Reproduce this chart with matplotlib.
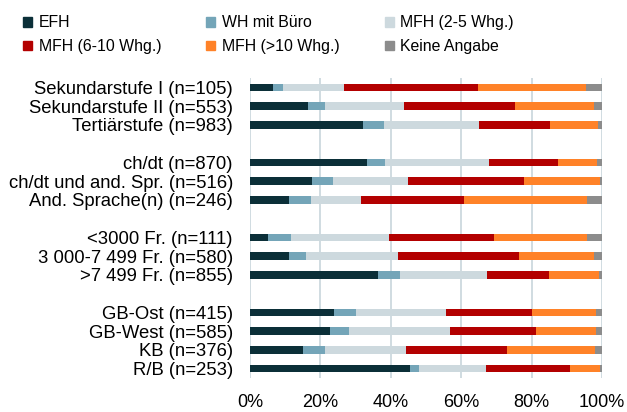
import matplotlib.pyplot as plt
from matplotlib.patches import Patch

plt.rcParams['font.family'] = ['Liberation Sans', 'DejaVu Sans']

# categories (top to bottom), None = gap between groups
labels = ["Sekundarstufe I (n=105)", "Sekundarstufe II (n=553)", "Tertiärstufe (n=983)", None,
          "ch/dt (n=870)", "ch/dt und and. Spr. (n=516)", "And. Sprache(n) (n=246)", None,
          "<3000 Fr. (n=111)", "3 000-7 499 Fr. (n=580)", ">7 499 Fr. (n=855)", None,
          "GB-Ost (n=415)", "GB-West (n=585)", "KB (n=376)", "R/B (n=253)"]

series = ["EFH", "WH mit Büro", "MFH (2-5 Whg.)", "MFH (6-10 Whg.)", "MFH (>10 Whg.)", "Keine Angabe"]
colors = ["#0b2f38", "#74a5b8", "#cdd9de", "#b30000", "#ff8228", "#8c8c8c"]

# shares in percent, one list per category
efh    = [6.5, 16.6, 32.2, 33.1, 17.5, 11.2, 5.2, 11.1, 36.4, 23.8, 22.7, 15.1, 45.5]
wh     = [2.9, 4.7, 5.9, 5.2, 6.1, 6.1, 6.4, 4.8, 6.2, 6.3, 5.4, 6.3, 2.6]
mfh25  = [17.2, 22.5, 27.0, 29.7, 21.3, 14.3, 28.0, 26.1, 24.7, 25.5, 28.8, 22.9, 19.0]
mfh610 = [38.3, 31.5, 20.2, 19.5, 32.9, 29.3, 29.7, 34.4, 17.6, 24.5, 24.4, 28.8, 23.8]
mfh10  = [30.5, 22.5, 13.5, 11.1, 21.5, 34.7, 26.3, 21.2, 14.3, 18.1, 17.0, 24.9, 8.4]
keine  = [4.6, 2.2, 1.2, 1.4, 0.7, 4.4, 4.4, 2.4, 0.8, 1.8, 1.7, 2.0, 0.7]

data = [efh, wh, mfh25, mfh610, mfh10, keine]
pos = [i for i, l in enumerate(labels) if l is not None]
names = [l for l in labels if l is not None]

fig = plt.figure(figsize=(6.27, 4.12), dpi=100)
ax = fig.add_axes([250 / 627, 1 - 378 / 412, 352 / 627, 300 / 412])

left = [0.0] * len(pos)
for vals, col, name in zip(data, colors, series):
    ax.barh(pos, vals, left=left, height=0.40, color=col, label=name, zorder=3)
    left = [a + b for a, b in zip(left, vals)]

ax.set_ylim(len(labels) - 0.5, -0.5)
ax.set_xlim(0, 100)
ax.set_yticks(pos)
ax.set_yticklabels(names, fontsize=13.3)
ax.set_xticks(range(0, 101, 20))
ax.set_xticklabels([f"{v}%" for v in range(0, 101, 20)], fontsize=13)
ax.tick_params(axis='y', length=0, pad=12.3)
ax.tick_params(axis='x', length=0, pad=11.5)
ax.grid(axis='x', color="#c8d6dc", linewidth=1.2, zorder=0)
for s in ax.spines.values():
    s.set_visible(False)

order = [0, 3, 1, 4, 2, 5]
handles = [Patch(color=colors[i]) for i in order]
fig.legend(handles, [series[i] for i in order], ncol=3, loc='upper left',
           bbox_to_anchor=(0.014, 0.997), frameon=False, fontsize=11.4,
           handlelength=0.57, handleheight=0.57, handletextpad=0.41,
           columnspacing=2.85, labelspacing=0.55)

fig.savefig("out.png", dpi=100)
